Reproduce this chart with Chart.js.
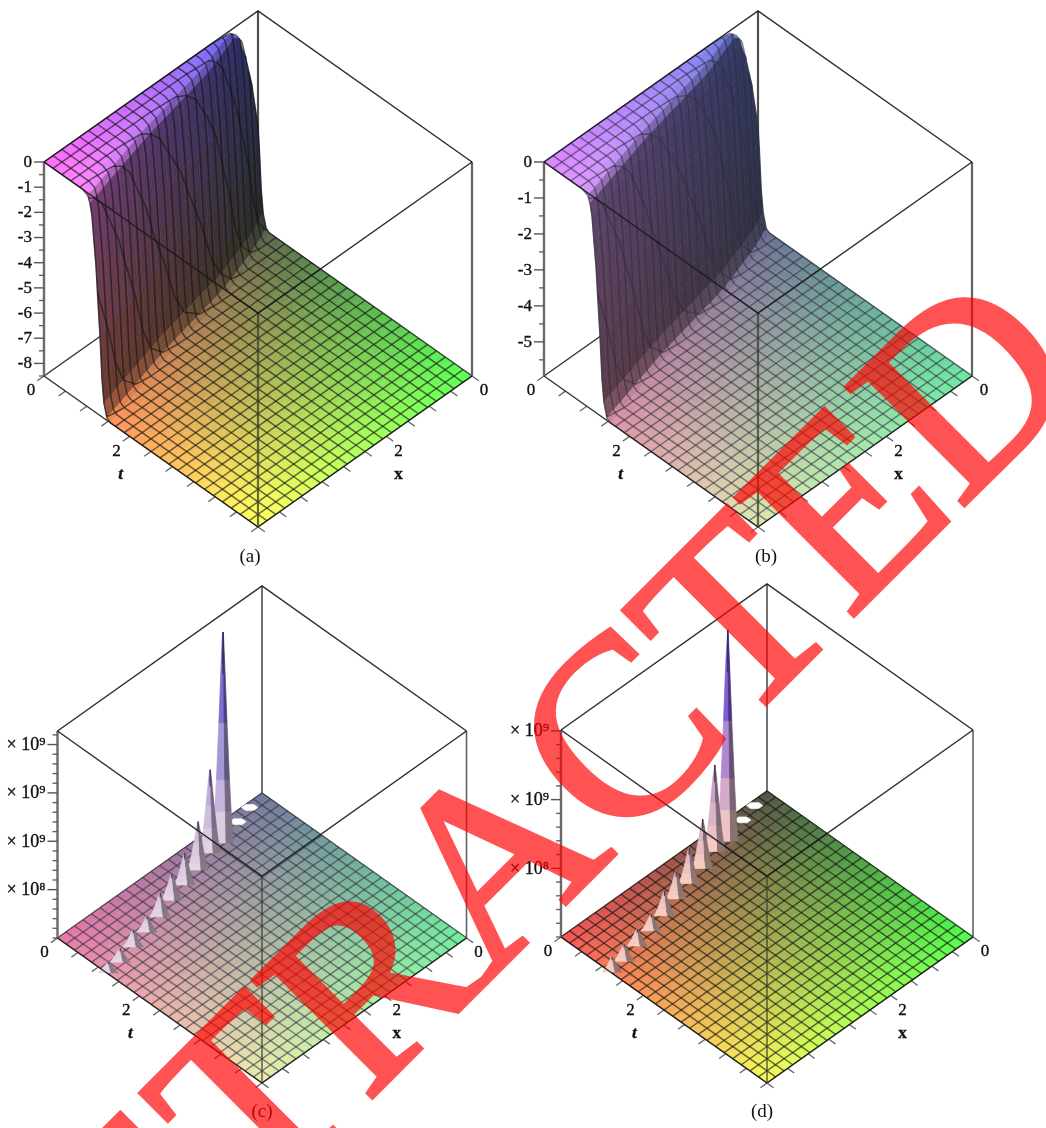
<!DOCTYPE html>
<html>
<head>
<meta charset="utf-8">
<title>Surfaces</title>
<script src="https://cdn.jsdelivr.net/npm/chart.js@4"></script>
<style>
  html, body { margin: 0; padding: 0; background: #fff; width: 1046px; height: 1128px; overflow: hidden; }
  canvas { position: absolute; }
  #stamp { position: absolute; left: 0; top: 0; }
</style>
</head>
<body>
<canvas id="panelA"></canvas>
<canvas id="panelB"></canvas>
<canvas id="panelC"></canvas>
<canvas id="panelD"></canvas>
<svg id="stamp" width="1046" height="1128">
  <text transform="translate(24,1446) rotate(-45)" font-family="Liberation Serif" font-size="256" fill="#ff0000" stroke="#ff0000" stroke-width="4" opacity="0.68">RETRACTED</text>
</svg>
<script>
// axis ticks shared by the four panels (x and t both run 0..5)
const planeTicks = [0, 0.5, 1, 1.5, 2, 2.5, 3, 3.5, 4, 4.5, 5];
const MESH = 24;

const zMajorA = [0, -1, -2, -3, -4, -5, -6, -7, -8];
const zMinorA = [-0.5, -1.5, -2.5, -3.5, -4.5, -5.5, -6.5, -7.5, -8.5];
const zMajorB = [0, -1, -2, -3, -4, -5];
const zMinorB = [-0.5, -1.5, -2.5, -3.5, -4.5, -5.5];
const zMajorC = [5, 10, 15, 20];
const zMinorC = [0, 1, 2, 3, 4, 6, 7, 8, 9, 11, 12, 13, 14, 16, 17, 18, 19, 21];
const zLabelsC = ["× 10⁸", "× 10⁹", "× 10⁹", "× 10⁹"];
const zMajorD = [5, 10, 15];
const zMinorD = [0, 1, 2, 3, 4, 6, 7, 8, 9, 11, 12, 13, 14];
const zLabelsD = ["× 10⁸", "× 10⁹", "× 10⁹"];

// where the wall starts, t as a function of x (panels a, b)
const ridgeX = [0, 0.37, 0.72, 1.49, 3.23, 5];
const ridgeT = [-0.38, -0.22, -0.105, 0.125, 0.465, 0.9];
// height of the wall against distance from that line
const dropOffset = [0, 0.125, 0.175, 0.22, 0.265, 0.315, 0.36, 0.41, 0.455, 0.5, 0.57, 0.65];
const dropA = [0, -0.1, -0.35, -0.8, -1.7, -2.7, -4, -5.4, -7, -7.9, -8.4, -8.5];
const dropB = [0, -0.07, -0.25, -0.56, -1.2, -1.9, -2.8, -3.8, -4.9, -5.5, -5.88, -5.95];

// peaks of panels c, d (heights in units of 10^8)
const spikeX = [1.34, 1.67, 2.11, 2.53, 2.95, 3.38, 3.8, 4.23, 4.65, 4.98];
const spikeT = [0.385, 0.4, 0.545, 0.64, 0.745, 0.89, 0.99, 1.08, 1.18, 1.22];
const spikeC = [21.8, 8.6, 5, 3.3, 2.8, 2.5, 1.6, 1.8, 1.4, 1.1];
const spikeD = [15.4, 6.3, 3.6, 2.6, 2, 1.8, 1.24, 1.24, 1.24, 1.1];
const spikeLevels = [0, 0.15, 0.3, 0.57, 0.85, 1];
const spikeWidths = [0.125, 0.1, 0.08, 0.05, 0.022, 0.005];

// the two small gaps in the floor near the back corner
const holeX = [0.4, 0.79];
const holeT = [0.1, 0.2];
const holeRimX = [-0.1, 0, 0.1, 0.1, 0, -0.1];
const holeRimT = [0.1, 0.1, 0, -0.1, -0.1, 0];

const panels = [
  { id: "panelA", left: 0, top: 0, width: 505, height: 570, cx: 258, backY: 225, hw: 214, hd: 151, boxH: 214,
    zMin: -8.5, zMax: 0, drop: dropA, major: zMajorA, minor: zMinorA, labels: zMajorA.map(String), caption: "(a)", capX: 250, capY: 557,
    base: [92, 96, 80], rx: 170, gt: 165, bx: 10, bt: 8, zc: [0, 12, 175], mesh: "rgba(20,22,15,0.62)" },
  { id: "panelB", left: 505, top: 0, width: 541, height: 570, cx: 758, backY: 225, hw: 214, hd: 151, boxH: 214,
    zMin: -5.95, zMax: 0, drop: dropB, major: zMajorB, minor: zMinorB, labels: zMajorB.map(String), caption: "(b)", capX: 766, capY: 557,
    base: [108, 108, 148], rx: 115, gt: 125, bx: 15, bt: 15, zc: [0, 25, 95], mesh: "rgba(45,45,60,0.55)" },
  { id: "panelC", left: 0, top: 570, width: 495, height: 558, cx: 262, backY: 793, hw: 204.5, hd: 145, boxH: 207,
    zMin: 0, zMax: 21.4, spikes: spikeC, major: zMajorC, minor: zMinorC, labels: zLabelsC, caption: "(c)", capX: 262, capY: 1112,
    base: [114, 120, 154], rx: 120, gt: 118, bx: 15, bt: 5, zc: [0, 0, 0], mesh: "rgba(45,45,60,0.55)",
    spikeLow: [232, 214, 228], spikeHigh: [112, 100, 205] },
  { id: "panelD", left: 495, top: 570, width: 551, height: 558, cx: 767, backY: 791, hw: 206, hd: 146, boxH: 207,
    zMin: 0, zMax: 15.07, spikes: spikeD, major: zMajorD, minor: zMinorD, labels: zLabelsD, caption: "(d)", capX: 762, capY: 1112,
    base: [80, 84, 72], rx: 170, gt: 170, bx: 15, bt: 5, zc: [0, 0, 0], mesh: "rgba(20,22,15,0.62)",
    spikeLow: [250, 208, 194], spikeHigh: [115, 80, 215] },
];

function lookup(xs, ys, v) {
  if (v <= xs[0]) return ys[0];
  for (let i = 1; i < xs.length; i++) {
    if (v <= xs[i]) {
      const f = (v - xs[i - 1]) / (xs[i] - xs[i - 1]);
      return ys[i - 1] + f * (ys[i] - ys[i - 1]);
    }
  }
  return ys[ys.length - 1];
}

function project(p, x, t, z) {
  const X = x / 5, T = t / 5;
  const zn = (z - p.zMin) / (p.zMax - p.zMin);
  return {
    x: p.cx + p.hw * (T - X),
    y: p.backY + p.hd * (T + X) - zn * p.boxH,
  };
}

function heightAt(p, x, t) {
  if (!p.drop) return p.zMin;
  return lookup(dropOffset, p.drop, t - lookup(ridgeX, ridgeT, x));
}

function colorAt(p, x, t, z, shade) {
  const X = x / 5, T = t / 5;
  const zn = (z - p.zMin) / (p.zMax - p.zMin);
  const r = (p.base[0] + p.rx * X + zn * p.zc[0]) * shade;
  const g = (p.base[1] + p.gt * T + zn * p.zc[1]) * shade;
  const b = (p.base[2] + p.bx * X + p.bt * T + zn * p.zc[2]) * shade;
  return `rgb(${Math.min(255, r) | 0},${Math.min(255, g) | 0},${Math.min(255, b) | 0})`;
}

function lineSet(points, color, width) {
  return { data: points, showLine: true, borderColor: color, borderWidth: width, pointRadius: 0, fill: false };
}

function shapeSet(points, color) {
  return {
    data: points.concat([points[0]]), showLine: true, pointRadius: 0, fill: "shape",
    backgroundColor: color, borderColor: color, borderWidth: 0.7,
  };
}

// t values of one lattice column
function columnRows(p, x) {
  const rows = [];
  if (!p.drop) {
    for (let i = 0; i <= 32; i++) rows.push((i * 5) / 32);
    return rows;
  }
  const r = lookup(ridgeX, ridgeT, x);
  for (let i = 0; i < 3; i++) rows.push(Math.max(0, (r * i) / 3));
  dropOffset.forEach((o) => rows.push(Math.max(0, r + o)));
  const start = Math.max(0, r + dropOffset[dropOffset.length - 1]);
  for (let i = 1; i <= 18; i++) rows.push(start + ((5 - start) * i) / 18);
  return rows;
}

function surfaceCells(p) {
  const cells = [];
  const cols = 34;
  for (let i = 0; i < cols; i++) {
    const x0 = (i * 5) / cols, x1 = ((i + 1) * 5) / cols;
    const a = columnRows(p, x0), b = columnRows(p, x1);
    for (let j = 0; j < a.length - 1; j++) {
      if (a[j + 1] - a[j] < 1e-6 && b[j + 1] - b[j] < 1e-6) continue;
      const z00 = heightAt(p, x0, a[j]), z01 = heightAt(p, x0, a[j + 1]);
      const z10 = heightAt(p, x1, b[j]), z11 = heightAt(p, x1, b[j + 1]);
      const dt = Math.max(0.02, (a[j + 1] - a[j] + b[j + 1] - b[j]) / 2);
      const slope = Math.abs((z00 + z10 - z01 - z11) / 2) / (p.zMax - p.zMin) / dt;
      const shade = 1 - 0.58 * Math.min(1, slope / 1.2);
      const mx = (x0 + x1) / 2, mt = (a[j] + a[j + 1] + b[j] + b[j + 1]) / 4;
      const mz = (z00 + z01 + z10 + z11) / 4;
      const quad = [project(p, x0, a[j], z00), project(p, x1, b[j], z10), project(p, x1, b[j + 1], z11), project(p, x0, a[j + 1], z01)];
      cells.push({ key: mx + mt, set: shapeSet(quad, colorAt(p, mx, mt, mz, shade)) });
    }
  }
  cells.sort((u, v) => v.key - u.key);
  return cells.map((c) => c.set);
}

function meshLines(p) {
  const sets = [];
  for (let i = 0; i <= MESH; i++) {
    const v = (i * 5) / MESH;
    // x = v, running along t
    let ts = [0, 5];
    if (p.drop) {
      const r = lookup(ridgeX, ridgeT, v);
      dropOffset.forEach((o) => { if (r + o > 0) ts.push(r + o); });
      ts.sort((a, b) => a - b);
    }
    sets.push(lineSet(ts.map((t) => project(p, v, t, heightAt(p, v, t))), p.mesh, 1.5));
    // t = v, running along x
    let xs = [0, 5];
    if (p.drop) {
      dropOffset.forEach((o) => {
        const want = v - o;
        if (want > ridgeT[0] && want < ridgeT[ridgeT.length - 1]) xs.push(lookup(ridgeT, ridgeX, want));
      });
      xs.sort((a, b) => a - b);
    }
    sets.push(lineSet(xs.map((x) => project(p, x, v, heightAt(p, x, v))), p.mesh, 1.5));
  }
  return sets;
}

function mixColor(a, b, f, k) {
  const c = a.map((v, i) => Math.round((v + (b[i] - v) * f) * k));
  return `rgb(${c[0]},${c[1]},${c[2]})`;
}

// front peaks first, so they paint over the ones behind
function spikeSets(p) {
  const sets = [];
  for (let s = spikeX.length - 1; s >= 0; s--) {
    const h = p.spikes[s], x = spikeX[s], t = spikeT[s];
    const tip = [project(p, x, t, h * 0.8), project(p, x, t, h)];
    sets.push(lineSet(tip, "rgba(40,35,60,0.75)", 1.2));
    for (let k = spikeLevels.length - 2; k >= 0; k--) {
      const z0 = h * spikeLevels[k], z1 = h * spikeLevels[k + 1];
      const w0 = spikeWidths[k], w1 = spikeWidths[k + 1];
      const f = Math.min(1, ((z0 + z1) / 2 / p.zMax) * 1.25);
      const center0 = project(p, x - w0 * 0.3, t + w0 * 0.3, z0), center1 = project(p, x - w1 * 0.3, t + w1 * 0.3, z1);
      const left = [project(p, x + w0, t - w0, z0), center0, center1, project(p, x + w1, t - w1, z1)];
      const right = [center0, project(p, x - w0, t + w0, z0), project(p, x - w1, t + w1, z1), center1];
      sets.push(shapeSet(right, mixColor(p.spikeLow, p.spikeHigh, f, 0.58)));
      sets.push(shapeSet(left, mixColor(p.spikeLow, p.spikeHigh, f, 1)));
    }
  }
  return sets;
}

function holeSets(p) {
  return holeX.map((hx, i) =>
    shapeSet(holeRimX.map((dx, k) => project(p, hx + dx, holeT[i] + holeRimT[k], p.zMin)), "#ffffff"));
}

function tickSets(p) {
  const sets = [];
  const tickColor = "rgba(70,75,85,0.85)";
  planeTicks.forEach((v) => {
    sets.push(lineSet([project(p, 5, v, p.zMin), project(p, 5.16, v, p.zMin)], tickColor, 1.3));
    sets.push(lineSet([project(p, v, 5, p.zMin), project(p, v, 5.16, p.zMin)], tickColor, 1.3));
  });
  const corner = project(p, 5, 0, p.zMin).x;
  p.major.forEach((z) => {
    const y = project(p, 5, 0, z).y;
    sets.push(lineSet([{ x: corner - 10, y }, { x: corner, y }], "#555", 1.4));
  });
  p.minor.forEach((z) => {
    const y = project(p, 5, 0, z).y;
    sets.push(lineSet([{ x: corner - 5, y }, { x: corner, y }], "#666", 1.4));
  });
  return sets;
}

function boxSets(p, part) {
  const ink = "rgba(25,25,25,0.9)";
  const c = (x, t, top) => project(p, x, t, top ? p.zMax : p.zMin);
  const thick = p.drop ? 2.2 : 1.6;
  if (part === "front") {
    return [
      lineSet([c(5, 0, true), c(5, 5, true), c(0, 5, true)], ink, 1.5),
      lineSet([c(5, 0, true), c(0, 0, true), c(0, 5, true)], ink, 1.5),
      lineSet([c(5, 5, true), c(5, 5, false)], "rgba(60,60,40,0.75)", thick),
      lineSet([c(0, 5, true), c(0, 5, false)], "rgba(70,70,70,0.85)", thick),
      lineSet([c(5, 0, true), c(5, 0, false)], "rgba(90,90,90,0.9)", 2.4),
      lineSet([c(5, 0, false), c(5, 5, false), c(0, 5, false)], ink, 1.4),
    ];
  }
  return [
    lineSet([c(0, 0, true), c(0, 0, false)], "rgba(60,60,60,0.9)", thick),
    lineSet([c(5, 0, false), c(0, 0, false), c(0, 5, false)], ink, 1.4),
  ];
}

function panelLabels(p) {
  const items = [];
  const corner = project(p, 5, 0, p.zMin).x;
  p.major.forEach((z, i) => {
    items.push({ text: p.labels[i], x: corner - 12, y: project(p, 5, 0, z).y + 0.5, align: "right", font: p.drop ? '17px "Liberation Serif"' : '18px "Liberation Serif"', heavy: true });
  });
  const add = (text, a, dx, dy, font) => items.push({ text, x: a.x + dx, y: a.y + dy, align: "center", font, heavy: true });
  const num = '17px "Liberation Serif"';
  add("0", project(p, 5, 0, p.zMin), -13, 15, num);
  add("0", project(p, 0, 5, p.zMin), 12, 15, num);
  add("2", project(p, 5, 2, p.zMin), -13, 15, num);
  add("2", project(p, 2, 5, p.zMin), 12, 15, num);
  add("t", project(p, 5, 2, p.zMin), -9, 38, 'italic bold 17px "Liberation Serif"');
  add("x", project(p, 2, 5, p.zMin), 12, 38, 'bold 17px "Liberation Serif"');
  items.push({ text: p.caption, x: p.capX, y: p.capY, align: "center", font: '19px "Liberation Serif"' });
  return items;
}

const labelPlugin = {
  id: "labelPlugin",
  afterDatasetsDraw(chart) {
    const { ctx, scales } = chart;
    const p = chart.options.plugins.labelPlugin.panel;
    ctx.save();
    ctx.fillStyle = "#111";
    ctx.strokeStyle = "#111";
    ctx.lineWidth = 0.35;
    ctx.textBaseline = "middle";
    panelLabels(p).forEach((l) => {
      ctx.font = l.font;
      ctx.textAlign = l.align;
      const px = scales.x.getPixelForValue(l.x), py = scales.y.getPixelForValue(l.y);
      ctx.fillText(l.text, px, py);
      if (l.heavy) ctx.strokeText(l.text, px, py);
    });
    ctx.restore();
  },
};

panels.forEach((p) => {
  const canvas = document.getElementById(p.id);
  canvas.width = p.width;
  canvas.height = p.height;
  canvas.style.left = p.left + "px";
  canvas.style.top = p.top + "px";

  // Chart.js paints the first dataset last, so the list runs front to back
  let datasets = boxSets(p, "front").concat(tickSets(p));
  if (p.spikes) datasets = datasets.concat(spikeSets(p), holeSets(p));
  datasets = datasets.concat(meshLines(p), surfaceCells(p), boxSets(p, "back"));

  new Chart(canvas, {
    type: "scatter",
    data: { datasets },
    plugins: [labelPlugin],
    options: {
      responsive: false,
      animation: false,
      events: [],
      layout: { padding: 0 },
      plugins: { legend: { display: false }, tooltip: { enabled: false }, labelPlugin: { panel: p } },
      scales: {
        x: { type: "linear", display: false, min: p.left, max: p.left + p.width },
        y: { type: "linear", display: false, reverse: true, min: p.top, max: p.top + p.height },
      },
    },
  });
});
</script>
</body>
</html>
